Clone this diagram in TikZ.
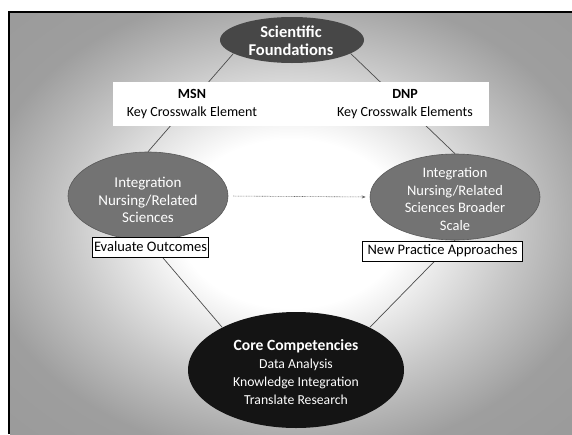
\documentclass[tikz,border=0pt]{standalone}
\usepackage{fontspec}
\setmainfont{Carlito}
\usetikzlibrary{shapes.geometric,arrows.meta}

% soft light centre fading to grey towards the edges
\pgfdeclareradialshading{bgglow}{\pgfpoint{0bp}{0bp}}{%
  color(0bp)=(white); color(10bp)=(white); color(20bp)=(black!22);
  color(28bp)=(black!38); color(50bp)=(black!42)}

\begin{document}
\begin{tikzpicture}[x=1pt,y=-1pt,
  blob/.style={ellipse, inner sep=0pt, draw=none},
  topblob/.style={blob, fill=black!72, minimum width=144pt, minimum height=46pt},
  midblob/.style={blob, fill=black!55, draw=black!65, line width=0.6pt},
  coreblob/.style={blob, fill=black!92, minimum width=216pt, minimum height=116pt},
  whitetxt/.style={text=white, align=center, inner sep=0pt},
  conn/.style={draw=black!70, line width=0.7pt},
  flow/.style={draw=black!60, line width=0.6pt, dash pattern=on 0.8pt off 0.8pt,
    -{Stealth[length=4pt,width=3pt]}, shorten <=5pt, shorten >=4pt},
  panel/.style={fill=white, draw=none, inner sep=0pt},
  paneltxt/.style={align=center, inner sep=0pt, font=\fontsize{14}{17.5}\selectfont},
  outbox/.style={draw=black, line width=1pt, fill=white, inner sep=0pt,
    minimum height=20pt, font=\fontsize{14.5}{16}\selectfont}
]
\useasboundingbox (0,0) rectangle (572,434);
\fill[white] (0,0) rectangle (572,434);
\shade[shading=bgglow] (10,13) rectangle (572,434);
\draw[line width=2.5pt] (9,434) -- (9,12) -- (572,12);

% ellipses
\node[topblob] (sci) at (292,40) {};
\node[midblob, minimum width=160pt, minimum height=88pt] (left) at (148,196) {};
\node[midblob, minimum width=170pt, minimum height=86pt] (right) at (455,197) {};
\node[coreblob] (core) at (296,370) {};

% connectors
\draw[conn] (sci.193) -- (left.north);
\draw[conn] (sci.-13) -- (right.north);
\draw[conn] (left.south) -- (core.150);
\draw[conn] (right.south) -- (core.30);
\draw[flow] (left.east) -- (right.west);

% ellipse texts
\node[whitetxt, font=\bfseries\fontsize{16.5}{18}\selectfont] (sciT) at (291,41)
  {Scientific\\Foundations};
\node[whitetxt, font=\fontsize{15}{17.5}\selectfont] (leftT) at (148,200)
  {Integration\\Nursing/Related\\Sciences};
\node[whitetxt, font=\fontsize{14.5}{17.5}\selectfont] (rightT) at (455,199)
  {Integration\\Nursing/Related\\Sciences Broader\\Scale};
\node[whitetxt, font=\fontsize{13.7}{18}\selectfont] (coreT) at (296,372)
  {{\bfseries\fontsize{15.6}{18}\selectfont Core Competencies}\\Data Analysis\\Knowledge Integration\\Translate Research};

% crosswalk label panel
\node[panel, minimum width=376pt, minimum height=44pt] (panel) at (301,104) {};
\node[paneltxt] (msn) at (192,104) {\textbf{MSN}\\Key Crosswalk Element};
\node[paneltxt] (dnp) at (405,104) {\textbf{DNP}\\Key Crosswalk Elements};

% outcome boxes
\node[outbox, minimum width=116pt] (evalbox) at (150.5,247) {Evaluate Outcomes};
\node[outbox, minimum width=160pt] (newbox) at (442.5,251) {New Practice Approaches};
\end{tikzpicture}
\end{document}
